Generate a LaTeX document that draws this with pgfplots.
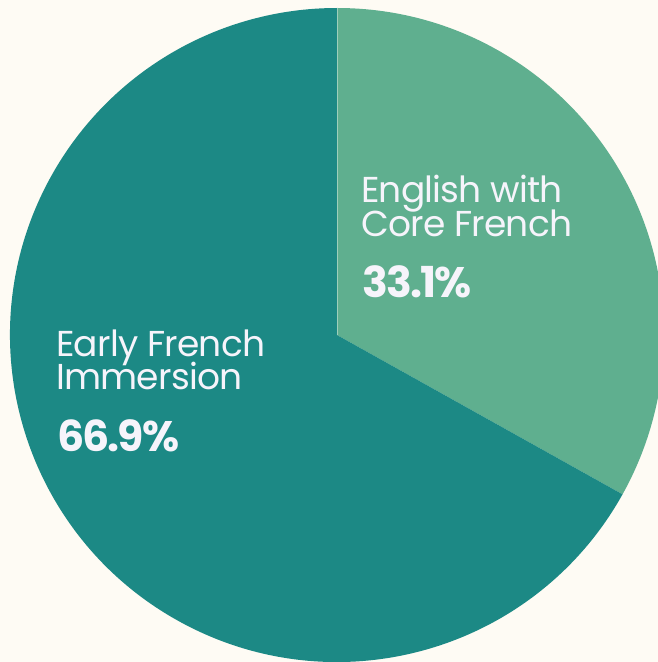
\documentclass[border=0pt]{standalone}
\usepackage{pgfplots}
\usepackage{pgfplotstable}
\pgfplotsset{compat=1.18}
\usepackage{fontspec}
\setmainfont{Poppins}
\newfontfamily\labfont[LetterSpace=-2.2]{Poppins}
\newfontfamily\pctfont[LetterSpace=-4.5]{Poppins Bold}
\definecolor{bgc}{HTML}{FEFBF4}
\definecolor{lightg}{HTML}{5FAF8F}
\definecolor{teal2}{HTML}{1C8985}
\definecolor{txt}{HTML}{F6F4FB}
\pgfplotstableread{
label value
English 33.1
Early 66.9
}\piedata
\pgfplotstablegetelem{0}{value}\of\piedata \let\valA\pgfplotsretval
\pgfplotstablegetelem{1}{value}\of\piedata \let\valB\pgfplotsretval
\begin{document}
\begin{tikzpicture}
\pgfmathsetmacro{\angA}{360*\valA/(\valA+\valB)}
\pgfmathsetmacro{\endA}{90-\angA}
\begin{axis}[
  width=493.5pt, height=496.5pt, scale only axis,
  xmin=0, xmax=658, ymin=0, ymax=662,
  hide axis, clip=true,
]
\fill[bgc] (axis cs:0,0) rectangle (axis cs:658,662);
\fill[lightg] (axis cs:337,327) -- ++(90:245.25pt) arc[start angle=90, end angle=\endA, radius=245.25pt] -- cycle;
\fill[teal2] (axis cs:337,327) -- ++(\endA:245.25pt) arc[start angle=\endA, end angle=-270, radius=245.25pt] -- cycle;
\draw[lightg!60!white, line width=0.6pt] (axis cs:337,327) -- ++(90:245.25pt);
\begin{scope}[every node/.style={anchor=base west, inner sep=0pt, text=txt}]
\node at (axis cs:361,459) {\labfont\fontsize{27}{27}\selectfont English with};
\node at (axis cs:361,425) {\labfont\fontsize{27}{27}\selectfont Core French};
\node at (axis cs:362,364) {\pctfont\fontsize{32}{32}\selectfont \valA\%};
\node at (axis cs:56,305) {\labfont\fontsize{27}{27}\selectfont Early French};
\node at (axis cs:56,272) {\labfont\fontsize{27}{27}\selectfont Immersion};
\node at (axis cs:57,210) {\pctfont\fontsize{32}{32}\selectfont \valB\%};
\end{scope}
\end{axis}
\end{tikzpicture}
\end{document}
